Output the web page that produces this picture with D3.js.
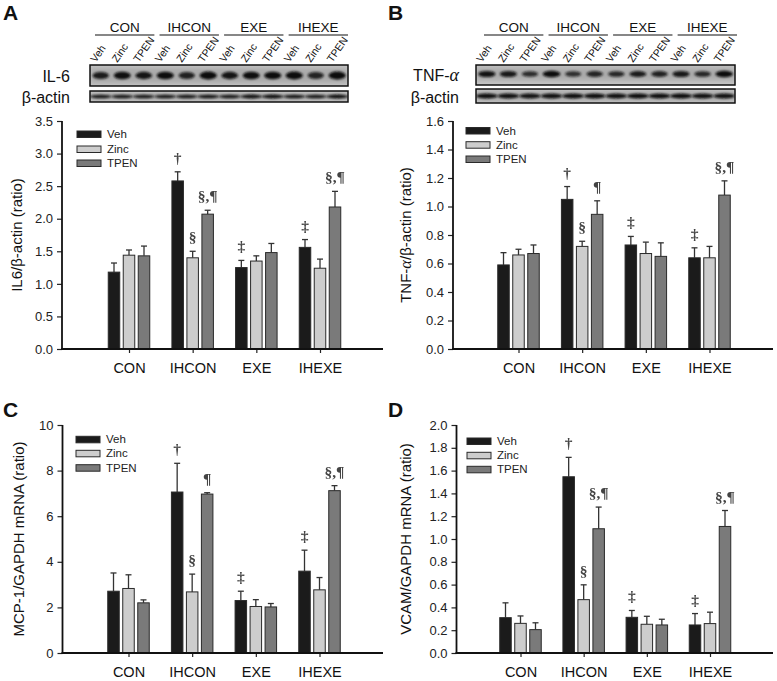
<!DOCTYPE html>
<html><head><meta charset="utf-8">
<script src="https://cdn.jsdelivr.net/npm/d3@7"></script>
<style>body{margin:0;background:#fff}svg{display:block}.ann{opacity:0.995}</style>
</head><body>
<script>
// ---------- DATA ----------
const groups = ["CON", "IHCON", "EXE", "IHEXE"];
const series = ["Veh", "Zinc", "TPEN"];
const laneLabels = ["Veh","Zinc","TPEN","Veh","Zinc","TPEN","Veh","Zinc","TPEN","Veh","Zinc","TPEN"];

// Panel A: IL6/beta-actin
const il6Veh = [1.18, 2.58, 1.25, 1.56];
const il6Zinc = [1.44, 1.40, 1.35, 1.24];
const il6Tpen = [1.43, 2.07, 1.48, 2.18];
const il6VehErr = [0.14, 0.14, 0.11, 0.12];
const il6ZincErr = [0.08, 0.10, 0.08, 0.14];
const il6TpenErr = [0.15, 0.06, 0.14, 0.24];
const il6Annot = [["", "†", "‡", "‡"], ["", "§", "", ""], ["", "§,¶", "", "§,¶"]];

// Panel B: TNF-alpha/beta-actin
const tnfVeh = [0.59, 1.05, 0.73, 0.64];
const tnfZinc = [0.66, 0.72, 0.67, 0.64];
const tnfTpen = [0.67, 0.945, 0.65, 1.08];
const tnfVehErr = [0.086, 0.09, 0.06, 0.07];
const tnfZincErr = [0.04, 0.036, 0.08, 0.08];
const tnfTpenErr = [0.06, 0.095, 0.095, 0.10];
const tnfAnnot = [["", "†", "‡", "‡"], ["", "§", "", ""], ["", "¶", "", "§,¶"]];

// Panel C: MCP-1/GAPDH mRNA
const mcpVeh = [2.71, 7.06, 2.30, 3.59];
const mcpZinc = [2.83, 2.68, 2.04, 2.77];
const mcpTpen = [2.20, 6.97, 2.02, 7.12];
const mcpVehErr = [0.80, 1.26, 0.41, 0.92];
const mcpZincErr = [0.60, 0.78, 0.30, 0.54];
const mcpTpenErr = [0.13, 0.06, 0.15, 0.22];
const mcpAnnot = [["", "†", "‡", "‡"], ["", "§", "", ""], ["", "¶", "", "§,¶"]];

// Panel D: VCAM/GAPDH mRNA
const vcamVeh = [0.31, 1.546, 0.313, 0.246];
const vcamZinc = [0.26, 0.468, 0.252, 0.258];
const vcamTpen = [0.205, 1.09, 0.246, 1.11];
const vcamVehErr = [0.13, 0.17, 0.06, 0.10];
const vcamZincErr = [0.065, 0.13, 0.07, 0.10];
const vcamTpenErr = [0.06, 0.19, 0.05, 0.14];
const vcamAnnot = [["", "†", "‡", "‡"], ["", "§", "", ""], ["", "§,¶", "", "§,¶"]];

// Western blot band intensities (relative, per lane)
const il6Bands = [0.80, 0.90, 0.85, 0.95, 0.75, 1.00, 0.85, 0.92, 0.95, 1.00, 0.72, 1.00];
const actinBandsA = [0.85, 0.85, 0.85, 0.85, 0.85, 0.88, 0.85, 0.9, 0.92, 0.88, 0.85, 0.92];
const tnfBands = [0.88, 0.82, 0.65, 0.98, 0.62, 0.72, 0.70, 0.80, 0.75, 0.82, 0.70, 0.95];
const actinBandsB = [0.92, 0.9, 0.88, 0.9, 0.92, 0.92, 0.9, 0.95, 0.92, 0.98, 0.9, 0.9];

// ---------- STYLE ----------
const W = 777, H = 681;
const SANS = "'Liberation Sans', Arial, sans-serif";
const SERIF = "'Liberation Serif', 'Times New Roman', serif";
const fills = {Veh: "#1b1b1b", Zinc: "#cdcdcd", TPEN: "#7a7a7a"};

const svg = d3.select("body").append("svg").attr("width", W).attr("height", H)
  .style("font-family", SANS);

const defs = svg.append("defs");
defs.append("filter").attr("id", "blur1").attr("x", "-50%").attr("y", "-100%").attr("width", "200%").attr("height", "300%")
  .append("feGaussianBlur").attr("stdDeviation", 1.2);
defs.append("filter").attr("id", "blur2").attr("x", "-20%").attr("y", "-100%").attr("width", "140%").attr("height", "300%")
  .append("feGaussianBlur").attr("stdDeviation", 2.5);

// ---------- BLOT ----------
function drawBlot(cfg) {
  const g = svg.append("g");
  const lane = d3.scaleBand(d3.range(12), [cfg.x0, cfg.x1]);
  const grp = d3.scaleBand(groups, [cfg.x0 + cfg.gOff, cfg.x1 + cfg.gOff2]).paddingInner(0.08);
  // group headers
  groups.forEach(gr => {
    g.append("line").attr("x1", grp(gr)).attr("x2", grp(gr) + grp.bandwidth())
      .attr("y1", 35).attr("y2", 35).attr("stroke", "#111").attr("stroke-width", 1.2);
    g.append("text").attr("x", grp(gr) + grp.bandwidth() / 2).attr("y", 31.5)
      .attr("text-anchor", "middle").attr("font-size", 13.5).attr("fill", "#111").text(gr);
  });
  // lane labels
  laneLabels.forEach((t, i) => {
    const cx = lane(i) + lane.bandwidth() / 2 - 5;
    g.append("text").attr("transform", `translate(${cx},63) rotate(-55)`)
      .attr("font-size", 10.5).attr("fill", "#111").text(t);
  });
  cfg.rows.forEach(r => {
    const rg = g.append("g");
    const clipId = "clip" + Math.round(cfg.x0) + "_" + r.y0;
    defs.append("clipPath").attr("id", clipId).append("rect")
      .attr("x", cfg.x0).attr("y", r.y0).attr("width", cfg.x1 - cfg.x0).attr("height", r.y1 - r.y0);
    rg.append("rect").attr("x", cfg.x0).attr("y", r.y0).attr("width", cfg.x1 - cfg.x0).attr("height", r.y1 - r.y0)
      .attr("fill", "#c6c6c6");
    const inner = rg.append("g").attr("clip-path", `url(#${clipId})`);
    const cy = (r.y0 + r.y1) / 2 + r.dy;
    inner.append("rect").attr("x", cfg.x0).attr("y", cy - r.ry * 2.2).attr("width", cfg.x1 - cfg.x0)
      .attr("height", r.ry * 4.4).attr("fill", "#6a6a6a").attr("opacity", 0.3).attr("filter", "url(#blur2)");
    inner.selectAll("ellipse.b").data(r.bands).join("ellipse")
      .attr("cx", (d, i) => lane(i) + lane.bandwidth() / 2)
      .attr("cy", cy)
      .attr("rx", d => r.rx * (0.8 + 0.25 * d))
      .attr("ry", d => r.ry * (0.6 + 0.5 * d))
      .attr("fill", "#101010").attr("opacity", d => Math.min(1, 0.35 + 0.7 * d))
      .attr("filter", "url(#blur1)");
    rg.append("rect").attr("x", cfg.x0).attr("y", r.y0).attr("width", cfg.x1 - cfg.x0).attr("height", r.y1 - r.y0)
      .attr("fill", "none").attr("stroke", "#111").attr("stroke-width", 1.5);
    const lt = g.append("text").attr("x", cfg.labelX).attr("y", r.labelY)
      .attr("text-anchor", "end").attr("font-size", 16).attr("fill", "#111");
    r.label.forEach(p => {
      const ts = lt.append("tspan").text(p.t);
      if (p.greek) ts.attr("font-family", SERIF).attr("font-style", "italic").attr("font-size", 18);
    });
  });
}

drawBlot({x0: 90, x1: 348, gOff: 5, gOff2: 0, labelX: 70, rows: [
  {y0: 65, y1: 86, dy: 0, rx: 8.2, ry: 3.6, bands: il6Bands, labelY: 82, label: [{t: "IL-6"}]},
  {y0: 91, y1: 102, dy: 0, rx: 10.5, ry: 1.8, bands: actinBandsA, labelY: 103, label: [{t: "β-actin"}]}
]});
drawBlot({x0: 476, x1: 735, gOff: 8, gOff2: 2, labelX: 459, rows: [
  {y0: 65, y1: 85, dy: -1, rx: 8.5, ry: 3.0, bands: tnfBands, labelY: 81, label: [{t: "TNF-"}, {t: "α", greek: true}]},
  {y0: 89, y1: 103, dy: 0, rx: 10.5, ry: 2.4, bands: actinBandsB, labelY: 103, label: [{t: "β-actin"}]}
]});

// ---------- BAR PANELS ----------
function drawPanel(cfg) {
  const g = svg.append("g");
  const y = d3.scaleLinear([0, cfg.max], [cfg.y1, cfg.y0]);
  const x = d3.scalePoint(groups, cfg.xr);
  const inner = d3.scaleBand(series, [-20.75, 20.75]).paddingInner(0.233);
  const vals = cfg.values, errs = cfg.errs;

  // y axis
  const ya = g.append("g").attr("transform", `translate(${cfg.x0},0)`)
    .call(d3.axisLeft(y).tickValues(d3.range(0, cfg.max + cfg.step / 2, cfg.step))
      .tickSize(5).tickSizeOuter(0).tickPadding(4).tickFormat(cfg.fmt));
  ya.select(".domain").remove();
  ya.selectAll("line").attr("stroke", "#222").attr("stroke-width", 1.2);
  ya.selectAll("text").attr("font-size", 13).attr("fill", "#222").attr("font-family", SANS);
  g.append("line").attr("x1", cfg.x0).attr("x2", cfg.x0).attr("y1", cfg.y0).attr("y2", cfg.y1 + 1)
    .attr("stroke", "#111").attr("stroke-width", 1.8);

  // bars
  const ann = g.append("g").attr("class", "ann");
  series.forEach((s, si) => {
    const sg = g.append("g");
    sg.selectAll("line.err").data(groups).join("line")
      .attr("x1", (d) => x(d) + inner(s) + inner.bandwidth() / 2)
      .attr("x2", (d) => x(d) + inner(s) + inner.bandwidth() / 2)
      .attr("y1", (d, i) => y(vals[si][i]))
      .attr("y2", (d, i) => y(vals[si][i] + errs[si][i]))
      .attr("stroke", "#333").attr("stroke-width", 1.3);
    sg.selectAll("line.cap").data(groups).join("line")
      .attr("x1", (d) => x(d) + inner(s) + inner.bandwidth() / 2 - 3)
      .attr("x2", (d) => x(d) + inner(s) + inner.bandwidth() / 2 + 3)
      .attr("y1", (d, i) => y(vals[si][i] + errs[si][i]))
      .attr("y2", (d, i) => y(vals[si][i] + errs[si][i]))
      .attr("stroke", "#333").attr("stroke-width", 1.3);
    sg.selectAll("rect").data(groups).join("rect")
      .attr("x", d => x(d) + inner(s))
      .attr("width", inner.bandwidth())
      .attr("y", (d, i) => y(vals[si][i]))
      .attr("height", (d, i) => y(0) - y(vals[si][i]))
      .attr("fill", fills[s]).attr("stroke", "#2a2a2a").attr("stroke-width", 1);
    ann.selectAll("text.s" + si).data(groups).join("text").attr("class", "s" + si)
      .attr("x", d => x(d) + inner(s) + inner.bandwidth() / 2)
      .attr("y", (d, i) => y(vals[si][i] + errs[si][i]) - 9)
      .attr("text-anchor", "middle").attr("font-family", SERIF).attr("font-size", 15.5)
      .attr("font-weight", "bold").attr("fill", "#444")
      .text((d, i) => cfg.annot[si][i]);
  });
  ann.raise();

  // x axis
  const xa = g.append("g").attr("transform", `translate(0,${cfg.y1})`)
    .call(d3.axisBottom(x).tickSize(4).tickSizeOuter(0).tickPadding(10));
  xa.select(".domain").remove();
  xa.selectAll("line").attr("stroke", "#222").attr("stroke-width", 1.2);
  xa.selectAll("text").attr("font-size", 14.5).attr("fill", "#111").attr("font-family", SANS);
  g.append("line").attr("x1", cfg.x0 - 1).attr("x2", cfg.x1).attr("y1", cfg.y1).attr("y2", cfg.y1)
    .attr("stroke", "#111").attr("stroke-width", 2);

  // legend
  series.forEach((s, i) => {
    const ly = cfg.legendY[i];
    g.append("rect").attr("x", cfg.legendX).attr("y", ly - 3).attr("width", 24).attr("height", 6.5)
      .attr("fill", fills[s]).attr("stroke", "#2a2a2a").attr("stroke-width", 1);
    g.append("text").attr("x", cfg.legendX + 30).attr("y", ly + 4).attr("font-size", 11.5)
      .attr("fill", "#222").text(s);
  });

  // y label
  const yl = g.append("text").attr("transform", `translate(${cfg.ylabelX},${(cfg.y0 + cfg.y1) / 2}) rotate(-90)`)
    .attr("text-anchor", "middle").attr("font-size", 15).attr("fill", "#111");
  cfg.ylabel.forEach(p => {
    const ts = yl.append("tspan").text(p.t);
    if (p.greek) ts.attr("font-family", SERIF).attr("font-style", "italic").attr("font-size", 16.5);
  });

  // panel letter
  svg.append("text").attr("x", cfg.letterX).attr("y", cfg.letterY).attr("font-size", 21)
    .attr("font-weight", "bold").attr("fill", "#111").text(cfg.letter);
}

const fmt1 = d3.format(".1f"), fmt0 = d3.format("d");

drawPanel({letter: "A", letterX: 3, letterY: 20, x0: 62, x1: 383, y0: 121, y1: 349, max: 3.5, step: 0.5, fmt: fmt1,
  xr: [129, 320], values: [il6Veh, il6Zinc, il6Tpen], errs: [il6VehErr, il6ZincErr, il6TpenErr], annot: il6Annot,
  legendX: 77, legendY: [134, 149, 163], ylabelX: 22, ylabel: [{t: "IL6/β-actin (ratio)"}]});

drawPanel({letter: "B", letterX: 388, letterY: 20, x0: 453, x1: 773, y0: 121, y1: 349, max: 1.6, step: 0.2, fmt: fmt1,
  xr: [518.5, 709.5], values: [tnfVeh, tnfZinc, tnfTpen], errs: [tnfVehErr, tnfZincErr, tnfTpenErr], annot: tnfAnnot,
  legendX: 466, legendY: [130.5, 144.7, 159], ylabelX: 411, ylabel: [{t: "TNF-"}, {t: "α", greek: true}, {t: "/β-actin (ratio)"}]});

drawPanel({letter: "C", letterX: 3, letterY: 417, x0: 62.5, x1: 383, y0: 425, y1: 653, max: 10, step: 2, fmt: fmt0,
  xr: [128.5, 319.5], values: [mcpVeh, mcpZinc, mcpTpen], errs: [mcpVehErr, mcpZincErr, mcpTpenErr], annot: mcpAnnot,
  legendX: 76, legendY: [439.3, 453.3, 467.7], ylabelX: 24, ylabel: [{t: "MCP-1/GAPDH mRNA (ratio)"}]});

drawPanel({letter: "D", letterX: 388, letterY: 417, x0: 456.5, x1: 773, y0: 425, y1: 653, max: 2.0, step: 0.2, fmt: fmt1,
  xr: [520.5, 710], values: [vcamVeh, vcamZinc, vcamTpen], errs: [vcamVehErr, vcamZincErr, vcamTpenErr], annot: vcamAnnot,
  legendX: 467, legendY: [441, 455.3, 469.3], ylabelX: 411, ylabel: [{t: "VCAM/GAPDH mRNA (ratio)"}]});
</script>
</body></html>
